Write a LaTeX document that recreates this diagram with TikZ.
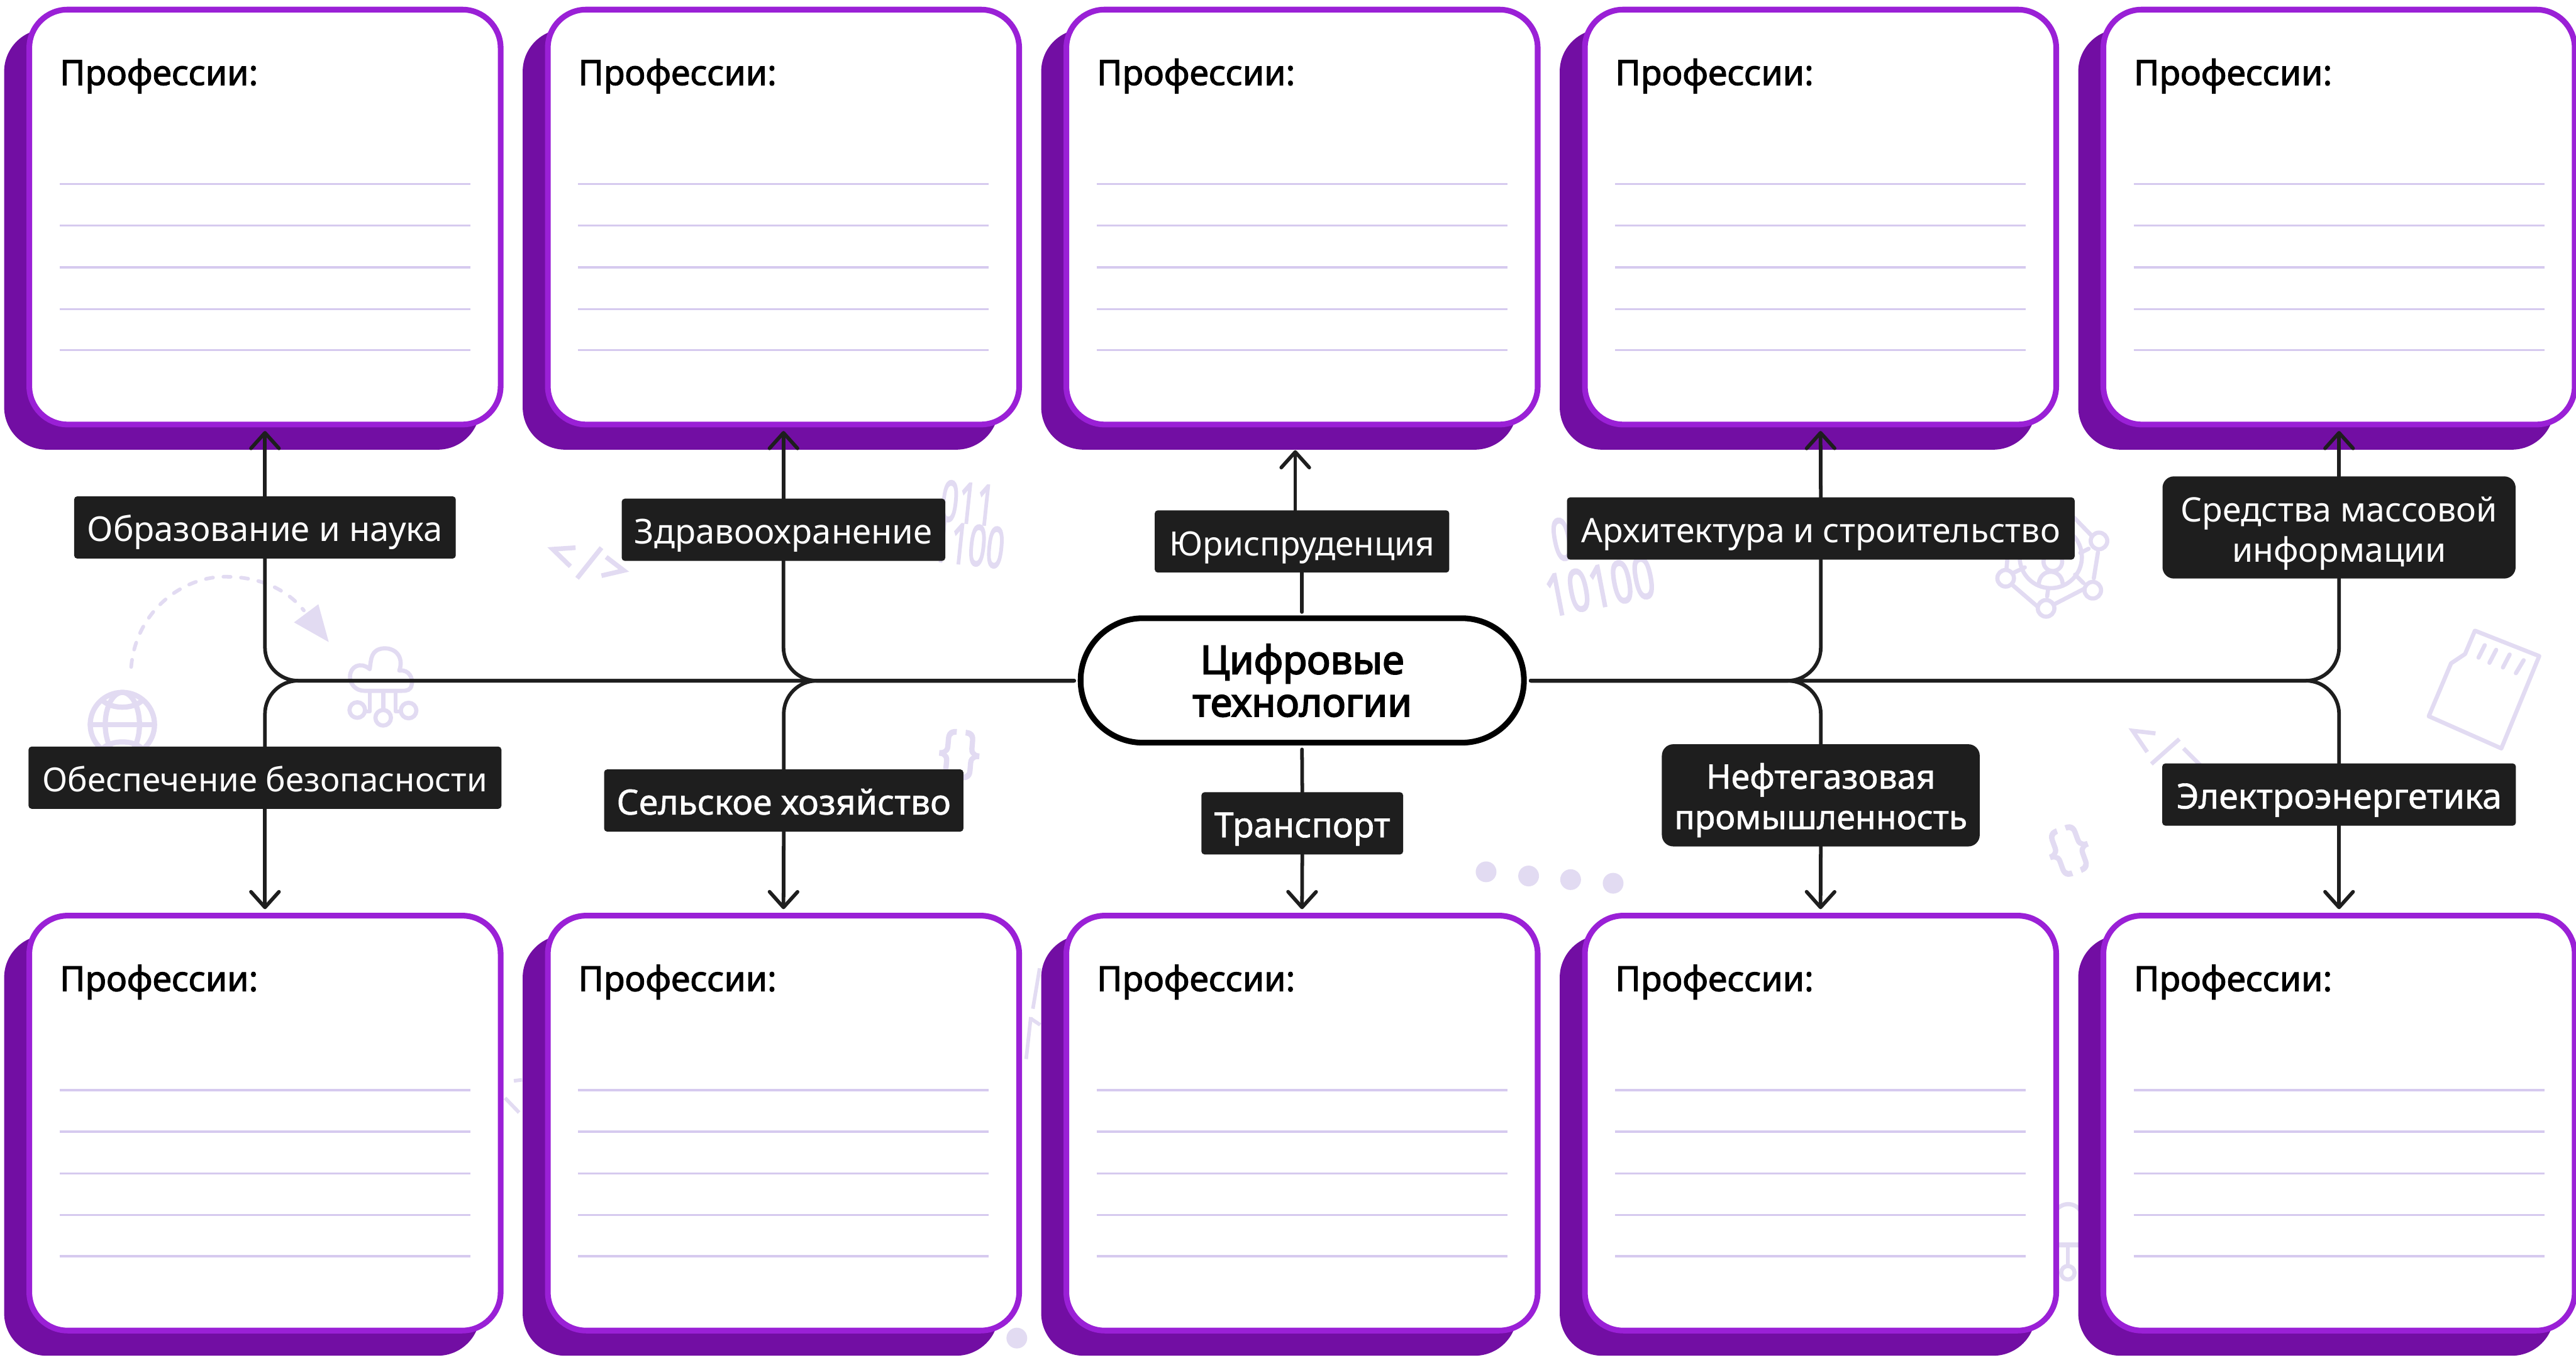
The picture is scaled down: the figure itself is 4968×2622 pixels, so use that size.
\documentclass[tikz,border=0pt]{standalone}
\usepackage{fontspec}
\setmainfont{Noto Sans}
\newfontfamily\medf[FakeBold=1.2]{Noto Sans}
\newfontfamily\semif[FakeBold=2]{Noto Sans}
\newfontfamily\boldf[FakeBold=3]{Noto Sans}
\usetikzlibrary{arrows.meta}
\definecolor{cardb}{HTML}{9A20D6}
\definecolor{cards}{HTML}{720EA3}
\definecolor{rulec}{HTML}{D6CAEF}
\definecolor{wmc}{HTML}{E2DBF2}
\definecolor{lblc}{HTML}{1E1E1E}
\tikzset{
  cardbox/.style={draw=cardb,line width=11pt,fill=white,rounded corners=74pt,minimum width=909pt,minimum height=800pt,inner sep=0pt},
  cardshadow/.style={fill=cards,rounded corners=82pt,minimum width=918pt,minimum height=811pt,inner sep=0pt},
  ruleline/.style={draw=rulec,line width=4pt},
  proftext/.style={anchor=base west,inner sep=0pt,font=\fontsize{67}{70}\selectfont\semif,text=black},
  lbl/.style={fill=lblc,text=white,rounded corners=6pt,inner sep=0pt,minimum height=120pt,text height=54pt,text depth=0pt,font=\fontsize{66}{78}\selectfont},
  lblm/.style={lbl,font=\fontsize{67}{78}\selectfont\medf},
  lbltwo/.style={fill=lblc,text=white,rounded corners=22pt,inner sep=0pt,minimum height=197pt,align=center},
  conn/.style={draw=lblc,line width=7pt,line cap=round,line join=round},
  bendline/.style={conn,rounded corners=64pt},
  arr/.style={conn,-{Straight Barb[length=30pt,width=54pt,round]}},
  wm/.style={draw=wmc,line width=8pt,line cap=round,line join=round},
  wmthin/.style={draw=wmc,line width=7pt,line cap=butt,line join=miter},
  wmtext/.style={text=wmc,inner sep=0pt,font=\fontsize{108}{108}\selectfont\boldf},
  wmdot/.style={fill=wmc,circle,minimum size=40pt,inner sep=0pt},
  pillbox/.style={draw=black,line width=11pt,fill=white,rounded corners=120pt,minimum width=855pt,minimum height=240pt,inner sep=0pt,align=center,font=\fontsize{76}{82}\selectfont\boldf,text=black}
}
\begin{document}
\begin{tikzpicture}[x=1pt,y=-1pt]
\useasboundingbox (0,0) rectangle (4968,2622);
\fill[white] (0,0) rectangle (4968,2622);
% --- background watermarks
\draw[wm,line width=7pt,dash pattern=on 14pt off 20pt] (253,1286) .. controls (262,1180) and (350,1112) .. (434,1112) .. controls (500,1112) and (552,1135) .. (586,1177);
\fill[wmc] (614,1165) -- (567,1200) -- (634,1238) -- cycle;
% globe
\draw[wm,line width=10pt] (236,1397) circle (62pt);
\draw[wm,line width=10pt] (236,1397) ellipse (33pt and 62pt);
\draw[wm,line width=10pt] (174,1397) -- (298,1397);
\draw[wm,line width=10pt] (197,1350) .. controls (215,1368) and (257,1368) .. (275,1350);
\draw[wm,line width=10pt] (197,1444) .. controls (215,1426) and (257,1426) .. (275,1444);
% cloud
\draw[wm] (713,1290) .. controls (716,1270) and (715,1252) .. (741,1250) .. controls (768,1250) and (778,1272) .. (770,1293) .. controls (790,1290) and (797,1310) .. (794,1320) .. controls (792,1331) and (785,1332) .. (775,1332) -- (703,1332) .. controls (685,1332) and (675,1318) .. (675,1305) .. controls (675,1285) and (695,1275) .. (713,1290);
\draw[wm] (713,1332) -- (713,1372) -- (705,1372);
\draw[wm] (739,1332) -- (739,1366);
\draw[wm] (763,1332) -- (763,1372) -- (771,1372);
\draw[wm] (689,1369) circle (15pt) (739,1384) circle (15pt) (788,1370) circle (15pt);
% code tag 1
\draw[wmthin,line width=9pt] (1110,1056) -- (1066,1059) -- (1100,1092);
\draw[wmthin,line width=9pt] (1160,1056) -- (1113,1115);
\draw[wmthin,line width=9pt] (1169,1074) -- (1203,1100) -- (1160,1110);
% digits
\node[wmtext,rotate=-6] (dA) at (1866,970) {\scalebox{.56}[1]{011}};
\node[wmtext,rotate=-6] (dB) at (1868,1050) {\scalebox{.56}[1]{1100}};
\node[wmtext,font=\fontsize{112}{112}\selectfont\boldf,rotate=11] (dC) at (3086,1130) {\scalebox{.66}[1]{10100}};
\node[wmtext,font=\fontsize{112}{112}\selectfont\boldf,rotate=11] (dD) at (3012,1040) {\scalebox{.62}[1]{0}};
% braces
\node[wmtext,rotate=-5] (brA) at (1850,1455) {\scalebox{.8}[1]{\{\,\}}};
\node[wmtext,rotate=20] (brB) at (3990,1640) {\scalebox{.8}[1]{\{\,\}}};
% network icon
\draw[wm] (3955,1074) circle (60pt);
\draw[wm] (3959,1083) circle (18pt);
\draw[wm] (3932,1125) .. controls (3935,1095) and (3975,1095) .. (3978,1125);
\draw[wm] (4000,998) -- (4033,1032);
\draw[wm] (3868,1115) -- (3872,1070);
\draw[wm] (3884,1104) -- (3905,1094);
\draw[wm] (3880,1127) -- (3930,1170);
\draw[wm] (3962,1165) -- (4020,1135);
\draw[wm] (3948,1150) -- (3950,1135);
\draw[wm] (4046,1065) -- (4038,1115);
\draw[wm] (4028,1058) -- (4012,1066);
\draw[wm] (4018,1124) -- (4002,1108);
\draw[wm,fill=white] (4048,1043) circle (16pt) (3868,1115) circle (16pt) (4036,1138) circle (16pt) (3946,1173) circle (16pt);
% SD card
\draw[wm] (4773,1216) -- (4897,1265) -- (4824,1443) -- (4684,1381) -- (4727,1279) -- (4754,1261) -- cycle;
\draw[wm] (4792,1244) -- (4780,1268);
\draw[wm] (4814,1253) -- (4801,1278);
\draw[wm] (4840,1262) -- (4827,1287);
\draw[wm] (4867,1273) -- (4852,1298);
% code tag 2
\draw[wmthin,line width=8pt] (4157,1414) -- (4113,1409) -- (4141,1450);
\draw[wmthin,line width=8pt] (4203,1425) -- (4149,1473);
\draw[wmthin,line width=8pt] (4211,1443) -- (4250,1482);
% dots
\foreach \px/\py [count=\i] in {2866/1681,2948/1689,3029/1696,3111/1703,1961/2580}
  \node[wmdot] (dot\i) at (\px,\py) {};
% fragments behind the lower cards
\draw[wmthin] (2005,1867) -- (1992,1945);
\draw[wmthin] (1988,1961) -- (1979,2042);
\draw[wmthin] (1988,1964) -- (2006,1976);
\draw[wmthin] (974,2117) -- (1001,2145);
\draw[wmthin] (991,2084) -- (1007,2082);
\draw[wm] (3960,2345) .. controls (3966,2318) and (4005,2310) .. (4018,2345);
\draw[wm,line width=10pt,line cap=butt] (3960,2400) -- (4020,2400);
\draw[wm] (3988,2400) -- (3988,2438);
\draw[wm] (3988,2454) circle (13pt);
% --- cards
\foreach \i/\dx in {1/0,2/1000,3/2000,4/3000,5/4000}{
  \foreach \r/\dy in {a/0,b/1747}{
    \node[cardshadow] (sh\r\i) at ({467+\dx},{461.5+\dy}) {};
    \node[cardbox] (card\r\i) at ({511+\dx},{418.5+\dy}) {};
    \node[proftext] (prof\r\i) at ({115+\dx},{164+\dy}) {Профессии:};
    \foreach \ly in {355,435,515.5,596,675}
      \draw[ruleline] ({115+\dx},{\ly+\dy}) -- ({907+\dx},{\ly+\dy});
  }
}
% --- hub
\node[pillbox] (hub) at (2511.5,1312) {Цифровые\\[0pt]технологии};
\coordinate (hL) at (2071.5,1312.5);
\coordinate (hR) at (2952,1312.5);
\coordinate (hT) at (2511,1180);
\coordinate (hB) at (2511,1445);
% --- labels
\node[lbl,minimum width=736pt] (lEdu) at (511,1017) {Образование и наука};
\node[lbl,minimum width=624pt] (lHealth) at (1511,1021.5) {Здравоохранение};
\node[lbl,minimum width=568pt,font=\fontsize{64.5}{78}\selectfont] (lLaw) at (2511,1044) {Юриспруденция};
\node[lbl,minimum width=979pt,font=\fontsize{65}{78}\selectfont] (lArch) at (3511.5,1019) {Архитектура и строительство};
\node[lbltwo,minimum width=681pt,font=\fontsize{65}{78}\selectfont] (lMedia) at (4511,1017) {\rule{0pt}{72pt}Средства массовой\\информации};
\node[lbl,minimum width=912pt,font=\fontsize{64}{78}\selectfont] (lSec) at (511,1499.5) {Обеспечение безопасности};
\node[lblm,minimum width=693pt] (lAgro) at (1511.5,1543.5) {Сельское хозяйство};
\node[lblm,minimum width=389pt] (lTrans) at (2511.5,1587.5) {Транспорт};
\node[lbltwo,minimum width=613pt,font=\fontsize{65}{78}\selectfont\medf] (lOil) at (3511.5,1533.5) {\rule{0pt}{68pt}Нефтегазовая\\промышленность};
\node[lblm,minimum width=682pt] (lPower) at (4511,1532) {Электроэнергетика};
% --- arrow ends
\coordinate (tEdu) at (511,831);
\coordinate (tHealth) at (1511,831);
\coordinate (tLaw) at (2498,868);
\coordinate (tArch) at (3511,831);
\coordinate (tMedia) at (4511,831);
\coordinate (bSec) at (511,1753);
\coordinate (bAgro) at (1511,1753);
\coordinate (bTrans) at (2511,1753);
\coordinate (bOil) at (3511,1753);
\coordinate (bPower) at (4511,1753);
% --- connectors: upward arrows
\draw[arr] (lEdu.north) -- (tEdu);
\draw[arr] (lHealth.north) -- (tHealth);
\draw[arr] (lLaw.north -| tLaw) -- (tLaw);
\draw[arr] (lArch.north) -- (tArch);
\draw[arr] (lMedia.north) -- (tMedia);
% --- connectors: downward arrows
\draw[arr] (lSec.south) -- (bSec);
\draw[arr] (lAgro.south) -- (bAgro);
\draw[arr] (lTrans.south) -- (bTrans);
\draw[arr] (lOil.south) -- (bOil);
\draw[arr] (lPower.south) -- (bPower);
% --- connectors: to the hub
\draw[conn] (lLaw.south) -- (hT);
\draw[conn] (hB) -- (lTrans.north);
\draw[bendline] (lEdu.south) |- (hL);
\draw[bendline] (lSec.north) |- (hL);
\draw[bendline] (lHealth.south) |- (hL);
\draw[bendline] (lAgro.north) |- (hL);
\draw[bendline] (lArch.south) |- (hR);
\draw[bendline] (lOil.north) |- (hR);
\draw[bendline] (lMedia.south) |- (hR);
\draw[bendline] (lPower.north) |- (hR);
\end{tikzpicture}
\end{document}
